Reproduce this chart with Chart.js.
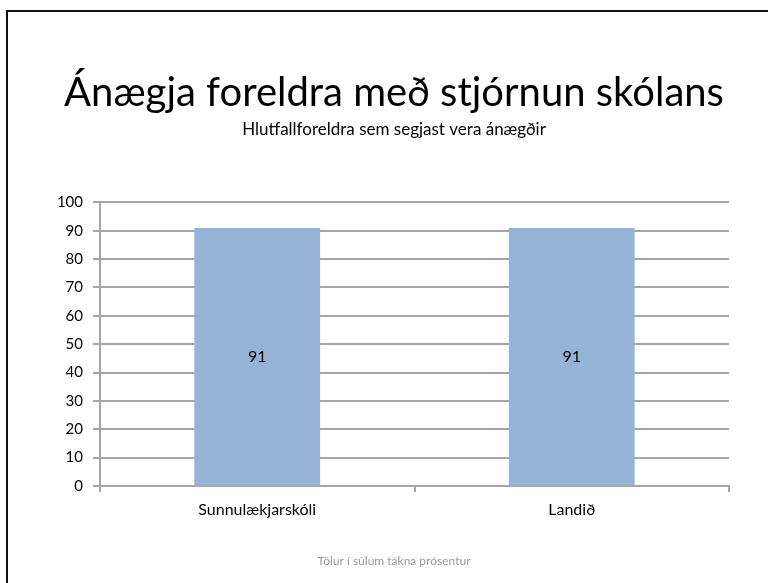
<!doctype html>
<html lang="is">
<head>
  <meta charset="utf-8">
  <title>Ánægja foreldra</title>
  <style>
    html, body { margin: 0; padding: 0; background: #fff; overflow: hidden; }
    .frame {
      position: absolute;
      left: 6px;
      top: 10px;
      border-left: 2px solid #111;
      border-top: 2px solid #111;
    }
    canvas { display: block; }
  </style>
</head>
<body>
  <div class="frame">
    <canvas id="myChart" width="772" height="571"></canvas>
  </div>

  <script src="https://cdn.jsdelivr.net/npm/chart.js"></script>
  <script>
    const categories = ['Sunnulækjarskóli', 'Landið']
    const values = [91, 91]
    const yTicks = [0, 10, 20, 30, 40, 50, 60, 70, 80, 90, 100]
    const titleText = 'Ánægja foreldra með stjórnun skólans'
    const subtitleText = 'Hlutfallforeldra sem segjast vera ánægðir'
    const footerText = 'Tölur í súlum tákna prósentur'

    const fontFam = 'Lato, "Open Sans", sans-serif'
    const gridColor = '#a6a6a6'

    // numbers in the middle of each bar + footer note
    const barLabels = {
      id: 'barLabels',
      afterDatasetsDraw(chart) {
        const ctx = chart.ctx
        ctx.save()
        ctx.font = '16px ' + fontFam
        ctx.fillStyle = '#000'
        ctx.textAlign = 'center'
        ctx.textBaseline = 'middle'
        chart.getDatasetMeta(0).data.forEach((bar, i) => {
          ctx.fillText(values[i], bar.x, (bar.y + bar.base) / 2)
        })
        ctx.font = '12px ' + fontFam
        ctx.fillStyle = '#999'
        ctx.fillText(footerText, chart.width / 2, 549)
        ctx.restore()
      }
    }

    const myChart = new Chart(document.getElementById('myChart'), {
      type: 'bar',
      data: {
        labels: categories,
        datasets: [{
          data: values,
          backgroundColor: '#95b3d7',
          borderWidth: 0,
          barPercentage: 0.4,
          categoryPercentage: 1
        }]
      },
      options: {
        responsive: false,
        animation: false,
        layout: { padding: 0 },
        plugins: {
          legend: { display: false },
          tooltip: { enabled: false },
          title: {
            display: true,
            text: titleText,
            color: '#000',
            font: { family: fontFam, size: 40, weight: 'normal' },
            padding: { top: 57, bottom: 0 }
          },
          subtitle: {
            display: true,
            text: subtitleText,
            color: '#000',
            font: { family: fontFam, size: 17, weight: 'normal' },
            padding: { top: 2, bottom: 63 }
          }
        },
        scales: {
          x: {
            grid: { drawOnChartArea: false, drawTicks: true, tickLength: 6, color: gridColor, lineWidth: 2 },
            border: { color: gridColor, width: 2 },
            ticks: { color: '#000', font: { family: fontFam, size: 16 }, padding: 8 },
            afterFit(scale) { scale.height = 97 }
          },
          y: {
            min: 0,
            max: 100,
            afterBuildTicks(scale) { scale.ticks = yTicks.map(v => ({ value: v })) },
            grid: { color: gridColor, lineWidth: 2, tickLength: 7 },
            border: { color: gridColor, width: 2 },
            ticks: { color: '#000', font: { family: fontFam, size: 15 }, padding: 10 },
            afterFit(scale) { scale.width = 92 }
          },
          // empty right-hand axis, only keeps space on the right of the plot
          yRight: {
            position: 'right',
            min: 0,
            max: 100,
            grid: { display: false },
            border: { display: false },
            ticks: { display: false },
            afterFit(scale) { scale.width = 51 }
          }
        }
      },
      plugins: [barLabels]
    })
  </script>
</body>
</html>
